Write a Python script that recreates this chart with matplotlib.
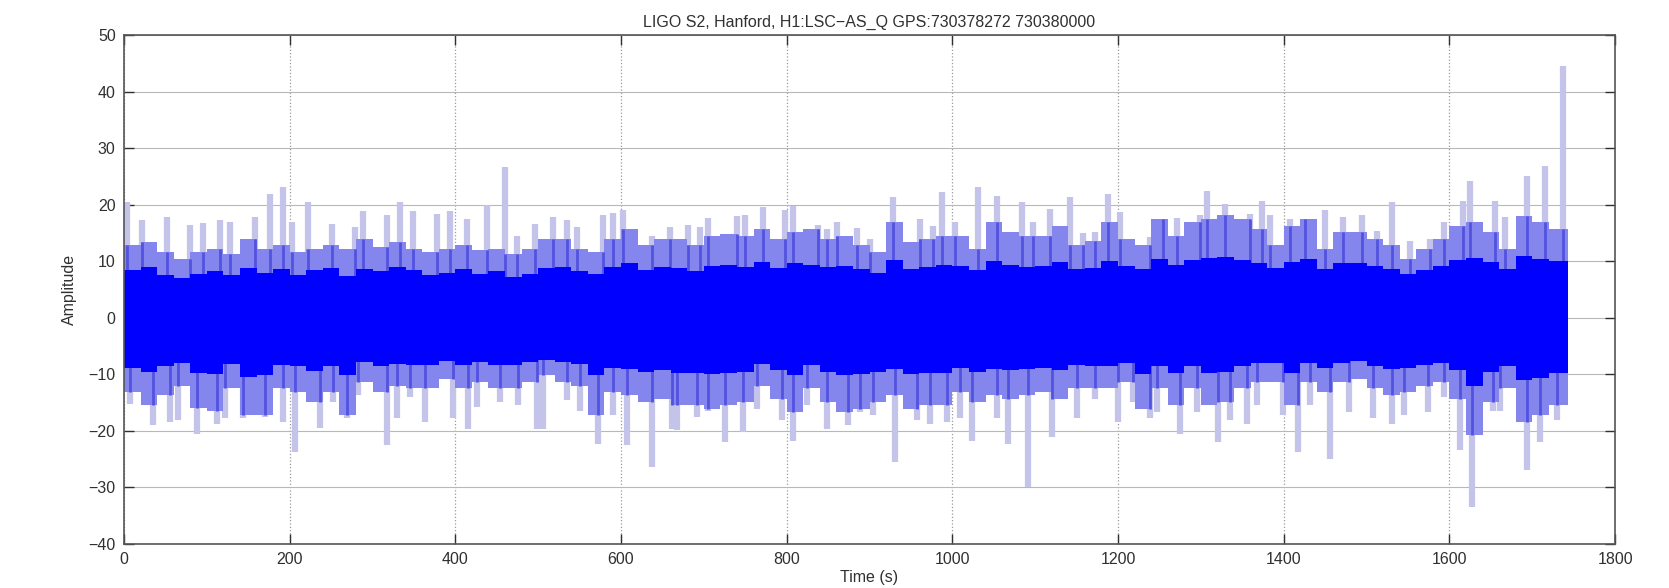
import numpy as np
import matplotlib
matplotlib.use("Agg")
import matplotlib.pyplot as plt

plt.rcParams['font.family'] = ['Liberation Sans', 'DejaVu Sans']

# --- values (20 s bins, 0..1740 s) ---
bin_width = 20.0
t_end = 1743.0

# solid (dense) part of the trace, upper / lower edge per bin
core_up = [8.5, 9.0, 7.5, 7.0, 7.8, 8.2, 7.5, 8.8, 8.0, 8.6, 7.6, 8.4, 8.8, 7.4, 8.6, 8.2, 9.0, 8.4, 7.6, 8.0,
           8.6, 7.8, 8.2, 7.2, 7.8, 8.8, 9.0, 8.2, 7.8,
           9.0, 9.6, 8.4, 9.0, 8.8, 8.2, 9.2, 9.4, 9.0, 9.8, 8.8, 9.6, 9.4, 9.0, 9.2, 8.6, 8.0, 10.2, 8.6, 9.0,
           9.4, 9.2, 8.4, 10.0, 9.4, 9.0, 9.2, 9.8, 8.6,
           8.8,
           10.0, 9.2, 8.6, 10.4, 9.4, 10.2, 10.6, 10.8, 10.2, 9.6, 8.8, 9.8, 10.4, 8.6, 9.6, 9.6, 9.2, 8.6, 7.8,
           8.4, 9.2, 10.2, 10.6, 9.8, 8.6, 11.0, 10.4, 10.0]
core_lo = [-8.8, -9.6, -8.6, -8.0, -9.8, -10.0, -8.2, -10.4, -10.2, -8.4, -8.6, -9.4, -8.6, -10.2, -7.8, -8.6,
           -8.2, -8.4, -8.4, -7.6, -8.4, -7.8, -8.4, -8.4, -7.8, -7.4, -7.8, -8.2, -10.2,
           -8.8, -9.0, -9.6, -9.2, -9.8, -9.8, -10.0, -9.8, -9.6, -8.2, -9.2, -10.2, -8.4, -9.6, -10.2, -10.0,
           -9.6, -9.0, -10.0, -9.8, -9.8, -8.8, -9.6, -9.0, -9.2, -9.0, -8.8, -9.2, -8.4,
           -8.6,
           -8.6, -8.0, -10.0, -8.6, -9.8, -8.6, -9.8, -9.6, -8.6, -8.0, -8.0, -9.8, -8.0, -8.8, -8.0, -7.6,
           -8.6, -9.0, -8.8, -8.4, -8.0, -9.2, -12.0, -9.6, -8.6, -11.0, -10.6, -9.8]

# lighter blue fringe per bin
mid_up = [12.8, 13.4, 11.6, 10.4, 11.6, 12.2, 11.3, 14.0, 12.2, 12.8, 11.6, 12.2, 12.8, 12.2, 14.0, 12.5,
          13.4, 12.2, 11.6, 12.2, 12.8, 11.9, 12.2, 11.3, 12.2, 14.0, 14.0, 12.2, 11.6,
          14.0, 15.7, 12.8, 14.0, 14.0, 12.8, 14.5, 14.8, 14.5, 15.7, 14.0, 15.1, 15.7, 14.0, 14.5, 12.8,
          11.6, 17.0, 13.4, 14.0, 14.5, 14.5, 12.2, 16.9, 15.1, 14.5, 14.5, 16.3, 12.8,
          13.5,
          16.9, 14.0, 12.8, 17.5, 14.5, 16.9, 17.5, 18.1, 17.5, 15.7, 12.8, 16.3, 17.5, 12.2, 15.1, 15.1,
          14.0, 12.8, 10.4, 12.2, 14.0, 16.3, 16.9, 15.1, 12.2, 18.0, 16.9, 15.7]
mid_lo = [-13.1, -15.5, -13.7, -12.0, -16.0, -16.5, -12.5, -17.2, -17.2, -12.5, -13.1, -14.9, -13.1, -17.2,
          -11.4, -13.1, -12.0, -12.5, -12.5, -10.8, -12.5, -11.4, -12.5, -12.5, -11.4, -10.2, -11.4, -12.0, -17.2,
          -13.1, -13.7, -14.9, -14.3, -15.5, -15.5, -16.1, -15.5, -14.9, -12.0, -14.3, -16.7, -12.5, -14.9,
          -16.7, -16.1, -14.9, -13.7, -16.1, -15.5, -15.5, -13.1, -14.9, -13.7, -14.3, -13.7, -13.1, -14.3, -12.5,
          -12.5,
          -12.5, -11.4, -16.1, -12.5, -15.5, -12.5, -15.5, -14.9, -12.5, -11.4, -11.4, -15.5, -11.4, -13.1,
          -11.4, -10.8, -12.5, -13.7, -13.1, -12.0, -11.4, -14.3, -20.8, -14.9, -12.5, -18.4, -17.2, -15.5]

# isolated excursions (time in s, amplitude)
up_t = [3.2, 21.3, 51.5, 79.7, 95.8, 115.9, 128.0, 158.1, 176.3, 192.3, 202.4, 222.5, 250.7, 278.9, 288.9,
        317.1, 333.2, 349.3, 377.5, 393.5, 413.7, 437.8, 460.0, 474.0, 496.2, 518.3, 534.4, 546.5, 578.7,
        590.8, 602.9, 637.1, 659.2, 681.3, 695.4, 705.5, 739.7, 749.7, 771.9, 798.0, 808.1, 838.3, 848.3,
        860.4, 884.5, 900.6, 928.8, 961.0, 977.1, 987.2, 1003.3, 1031.4, 1053.6, 1083.7, 1097.8, 1118.0,
        1142.1, 1158.2, 1172.0, 1188.4, 1202.5, 1238.7, 1254.8, 1270.9, 1299.1, 1307.1, 1329.3, 1359.5,
        1373.5, 1383.6, 1407.7, 1425.9, 1450.0, 1472.1, 1494.3, 1512.4, 1530.5, 1552.6, 1576.7, 1592.9,
        1617.0, 1625.1, 1655.2, 1667.3, 1693.4, 1715.6, 1737.7]
up_v = [20.5, 17.2, 17.8, 16.4, 16.8, 17.2, 16.9, 17.8, 21.9, 23.1, 16.9, 20.5, 16.6, 16.0, 18.8, 18.1, 20.4,
        18.8, 18.4, 18.8, 17.5, 20.0, 26.6, 14.5, 16.6, 17.8, 17.2, 16.0, 18.2,
        18.5, 19.0, 14.5, 16.0, 16.4, 16.0, 17.6, 18.0, 18.2, 19.5, 19.0, 19.8, 16.4, 15.7, 17.0, 15.8, 14.0,
        21.3, 17.5, 16.3, 22.3, 17.0, 23.1, 21.6, 20.5, 16.9, 19.2, 21.3, 15.0,
        15.1,
        21.9, 18.7, 14.3, 16.6, 17.6, 18.1, 22.5, 20.1, 18.4, 20.7, 18.1, 17.5, 17.5, 19.0, 17.8, 18.1, 15.4,
        20.5, 13.5, 14.0, 16.9, 20.7, 24.2, 20.7, 17.8, 25.1, 26.9, 44.5]
lo_t = [7.2, 35.4, 55.5, 65.6, 88.5, 111.9, 121.9, 144.1, 170.2, 192.3, 206.4, 236.6, 252.7, 268.8, 282.9,
        317.1, 329.2, 345.3, 363.4, 397.6, 415.7, 425.7, 453.9, 476.0, 498.2, 506.2, 534.4, 550.5, 572.6,
        590.8, 606.9, 637.1, 661.2, 667.3, 691.4, 705.5, 725.6, 747.7, 763.8, 794.0, 808.1, 824.2, 848.3,
        874.5, 888.6, 904.7, 930.8, 957.0, 973.1, 993.2, 1009.3, 1023.4, 1053.6, 1067.6, 1091.8, 1120.0,
        1150.1, 1172.0,
        1200.5, 1218.6, 1238.7, 1246.8, 1275.0, 1295.1, 1321.2, 1335.3, 1355.4, 1367.5, 1399.7, 1417.8,
        1431.9, 1456.0, 1478.2, 1508.3, 1530.5, 1544.6, 1574.7, 1592.9, 1613.0, 1627.1, 1653.2, 1661.3,
        1693.4, 1709.6, 1729.7]
lo_v = [-15.2, -18.9, -18.4, -18.1, -20.5, -18.7, -17.8, -17.8, -17.5, -18.4, -23.7, -19.5, -14.9, -17.8,
        -13.7, -22.5, -17.8, -14.0, -18.5, -17.8, -19.7, -15.8, -14.9, -15.5, -19.6, -19.6, -14.6, -16.4, -22.4,
        -17.2, -22.5, -26.4, -19.6, -19.9, -17.5, -16.4, -22.0, -20.2, -16.1, -18.1, -21.7, -15.5, -19.6,
        -19.0, -16.7, -17.2, -25.5, -18.1, -18.7, -18.4, -17.8, -21.7, -17.8, -22.4, -29.9, -21.1, -17.8,
        -14.3,
        -18.4, -14.9, -17.8, -16.7, -20.5, -16.7, -22.0, -18.1, -18.7, -15.5, -17.2, -23.7, -15.5, -24.9,
        -16.7, -17.8, -18.7, -17.2, -16.7, -14.0, -23.4, -33.4, -16.4, -16.4, -27.0, -22.0, -18.1]

title = "LIGO S2, Hanford, H1:LSC\u2212AS_Q GPS:730378272 730380000"
xticks = [0, 200, 400, 600, 800, 1000, 1200, 1400, 1600, 1800]
yticks = [-40, -30, -20, -10, 0, 10, 20, 30, 40, 50]

# step edges for the binned envelopes
n_bins = len(core_up)
edges = np.arange(n_bins + 1) * bin_width
edges[-1] = t_end


def stepped(vals):
    return np.append(vals, vals[-1])


def fringe_at(times, fringe):
    # fringe level of the bin each excursion falls in
    idx = np.minimum((np.asarray(times) // bin_width).astype(int), n_bins - 1)
    return np.asarray(fringe)[idx]


fig = plt.figure(figsize=(16.69, 5.88), dpi=100)
ax = fig.add_axes([0.0743, 0.0748, 0.8934, 0.8657])
ax.set_axisbelow(True)

pale = '#c4c4ea'
medium = '#8585ee'
dark = '#5252e0'
blue = '#0000ff'

# pale excursions, then the lighter fringe, then the dense core
ax.vlines(up_t, 0, up_v, color=pale, linewidth=4.5, zorder=1.0)
ax.vlines(lo_t, lo_v, 0, color=pale, linewidth=4.5, zorder=1.0)
ax.fill_between(edges, stepped(mid_lo), stepped(mid_up), step='post', color=medium,
                linewidth=0, zorder=1.1)
ax.vlines(up_t, 0, fringe_at(up_t, mid_up), color=dark, linewidth=2, zorder=1.2)
ax.vlines(lo_t, fringe_at(lo_t, mid_lo), 0, color=dark, linewidth=2, zorder=1.2)
ax.fill_between(edges, stepped(core_lo), stepped(core_up), step='post', color=blue,
                linewidth=0, zorder=1.3)

ax.set_xlim(0, 1800)
ax.set_ylim(-40, 50)
ax.set_xticks(xticks)
ax.set_yticks(yticks)
ax.tick_params(direction='in', length=7, width=1, top=True, right=True, labelsize=11.5,
               colors='#303030', pad=6)
ax.xaxis.grid(True, linestyle=':', color='#9a9a9a', linewidth=0.9, zorder=0.5)
ax.yaxis.grid(True, linestyle='-', color='#b8b8b8', linewidth=0.8, zorder=0.5)
for sp in ax.spines.values():
    sp.set_color('#555555')
    sp.set_linewidth(1.2)
    sp.set_zorder(3)

ax.set_title(title, fontsize=11.5, color='#303030', pad=6)
ax.set_xlabel("Time (s)", fontsize=11.5, color='#303030', labelpad=2)
ax.set_ylabel("Amplitude", fontsize=11.5, color='#303030', labelpad=8)

fig.savefig("out.png", dpi=100)
